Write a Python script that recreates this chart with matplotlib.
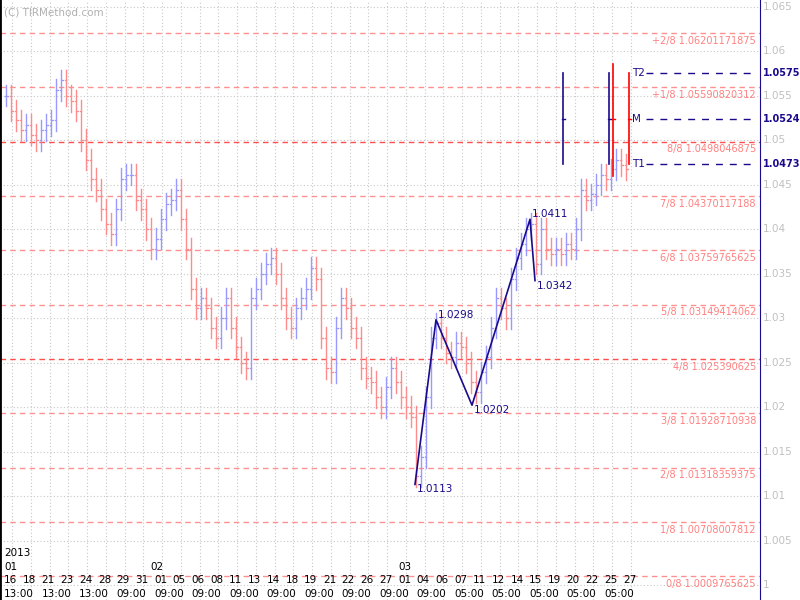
import numpy as np
import matplotlib.pyplot as plt

# closing prices sampled every 5 px of the reference
closes = [1.0550, 1.0533, 1.0522, 1.0511, 1.0517, 1.0506, 1.0500, 1.0511, 1.0517, 1.0522,
          1.0556, 1.0567, 1.0550, 1.0544, 1.0533, 1.0500, 1.0478, 1.0456, 1.0444, 1.0422,
          1.0406, 1.0394, 1.0422, 1.0456, 1.0461, 1.0461, 1.0433, 1.0422, 1.0400, 1.0378,
          1.0389, 1.0411, 1.0428, 1.0433, 1.0444, 1.0411, 1.0378, 1.0333, 1.0311, 1.0322,
          1.0311, 1.0289, 1.0278, 1.0300, 1.0322, 1.0289, 1.0267, 1.0250, 1.0244, 1.0322,
          1.0333, 1.0350, 1.0361, 1.0367, 1.0350, 1.0322, 1.0300, 1.0289, 1.0311, 1.0322,
          1.0333, 1.0356, 1.0344, 1.0278, 1.0244, 1.0239, 1.0289, 1.0322, 1.0311, 1.0289,
          1.0278, 1.0244, 1.0233, 1.0228, 1.0211, 1.0200, 1.0222, 1.0244, 1.0228, 1.0211,
          1.0200, 1.0189, 1.0122, 1.0144, 1.0211, 1.0278, 1.0294, 1.0278, 1.0261, 1.0256,
          1.0272, 1.0267, 1.0250, 1.0228, 1.0217, 1.0239, 1.0256, 1.0289, 1.0322, 1.0311,
          1.0300, 1.0344, 1.0367, 1.0383, 1.0400, 1.0406, 1.0361, 1.0400, 1.0378, 1.0372,
          1.0378, 1.0372, 1.0383, 1.0378, 1.0400, 1.0444, 1.0433, 1.0439, 1.0450, 1.0461,
          1.0456, 1.0467, 1.0478, 1.0472, 1.0467]
wick = 0.0012

murrey_names = ['0/8', '1/8', '2/8', '3/8', '4/8', '5/8', '6/8', '7/8', '8/8', '+1/8', '+2/8']
murrey_vals = [1.0009765625, 1.00708007812, 1.01318359375, 1.01928710938, 1.025390625,
               1.03149414062, 1.03759765625, 1.04370117188, 1.0498046875, 1.05590820312,
               1.06201171875]

zz_px = [415, 436, 472, 530, 535]
zz_vals = [1.0113, 1.0298, 1.0202, 1.0411, 1.0342]

targets = ['T2', 'M', 'T1']
target_vals = [1.0575, 1.0524, 1.0473]

day_labels = ['16', '18', '21', '23', '24', '28', '29', '31', '01', '05', '06', '08', '11', '13',
              '14', '18', '19', '21', '22', '26', '27', '01', '04', '06', '07', '11', '12', '14',
              '15', '19', '20', '22', '25', '27']
time_labels = ['13:00', '13:00', '13:00', '09:00', '09:00', '09:00', '09:00', '09:00', '09:00',
               '09:00', '09:00', '09:00', '05:00', '05:00', '05:00', '05:00', '05:00']

W, H = 800, 600
fig = plt.figure(figsize=(8, 6), dpi=100)
ax = fig.add_axes([0, 0, 760 / W, 1])
fig.patch.set_facecolor('white')
ax.set_xlim(0, 760)
ytop = 1.06 + 51 / 8900
ybot = 1.06 - (600 - 51) / 8900
ax.set_ylim(ybot, ytop)

navy = '#1a0a8c'
pink = '#ff8c8c'
blue = '#9999ff'

# grid
for v in np.arange(1.0, 1.0651, 0.005):
    ax.axhline(v, color='#c8c8c8', lw=0.8, ls=(0, (1, 2)), zorder=0)
    fig.text(763 / W, (v - ybot) / (ytop - ybot), f'{v:g}', color='#c0c0c0',
             fontsize=7.5, va='center')
n_days = len(day_labels)
day_x = [4 + i * (623 - 4) / (n_days - 1) for i in range(n_days)]
for x in day_x:
    ax.axvline(x + 8, color='#c8c8c8', lw=0.8, ls=(0, (1, 2)), zorder=0)

# murrey lines
for name, v in zip(murrey_names, murrey_vals):
    strong = name in ('4/8', '8/8')
    ax.axhline(v, color='#ff5050' if strong else '#ff9090', lw=1.0, ls=(0, (4, 3)), zorder=1)
    ax.text(756, v - 0.0003, f'{name} {v:.12g}', color='#ff8080', fontsize=7,
            ha='right', va='top')

# price bars
prev = closes[0]
for i, c in enumerate(closes):
    x = 6 + 5 * i
    col = blue if c >= prev else pink
    lo, hi = min(prev, c) - wick, max(prev, c) + wick
    ax.plot([x, x], [lo, hi], color=col, lw=1.0, zorder=2)
    ax.plot([x - 1.5, x], [prev, prev], color=col, lw=0.9, zorder=2)
    ax.plot([x, x + 1.5], [c, c], color=col, lw=0.9, zorder=2)
    prev = c

# zigzag
ax.plot(zz_px, zz_vals, color=navy, lw=1.2, zorder=3)
for x, v in zip(zz_px, zz_vals):
    ax.text(x + 2, v, f'{v:.4f}', color=navy, fontsize=7.5,
            va='top' if v in (1.0113, 1.0202, 1.0342) else 'bottom')

# targets
for name, v in zip(targets, target_vals):
    ax.plot([646, 755], [v, v], color=navy, lw=1, ls=(0, (5, 5)))
    ax.text(632, v, name, color=navy, fontsize=7.5, va='center')
    fig.text(763 / W, (v - ybot) / (ytop - ybot), f'{v:.4f}', color=navy,
             fontsize=7, va='center', fontweight='bold')
for x, c, top, bot in [(563, navy, 1.0575, 1.0473), (609, navy, 1.0575, 1.0473),
                       (613, 'red', 1.0585, 1.0460), (629, 'red', 1.0575, 1.0473)]:
    ax.plot([x, x], [bot, top], color=c, lw=1.2, zorder=4)
    ax.plot([x - 1.5, x + 1.5], [1.0524, 1.0524], color=c, lw=1, zorder=4)

# texts
ax.text(4, 1.0643, '(C) TIRMethod.com', color='#b0b0b0', fontsize=7.5, va='center')
ax.text(4, 1.06 - (553 - 51) / 8900, '2013', fontsize=7.5, va='center')
for x, m in [(4, '01'), (150, '02'), (398, '03')]:
    ax.text(x, 1.06 - (567 - 51) / 8900, m, fontsize=7.5, va='center')
for i, (x, d) in enumerate(zip(day_x, day_labels)):
    ax.text(x, 1.06 - (580 - 51) / 8900, d, fontsize=7.5, va='center')
for i, t in enumerate(time_labels):
    ax.text(day_x[2 * i], 1.06 - (594 - 51) / 8900, t, fontsize=7.5, va='center')

for s in ['top', 'bottom']:
    ax.spines[s].set_visible(False)
ax.spines['left'].set_color('black')
ax.spines['left'].set_linewidth(2)
ax.spines['right'].set_color(navy)
ax.set_xticks([])
ax.set_yticks([])

fig.savefig('out.png', dpi=100)
